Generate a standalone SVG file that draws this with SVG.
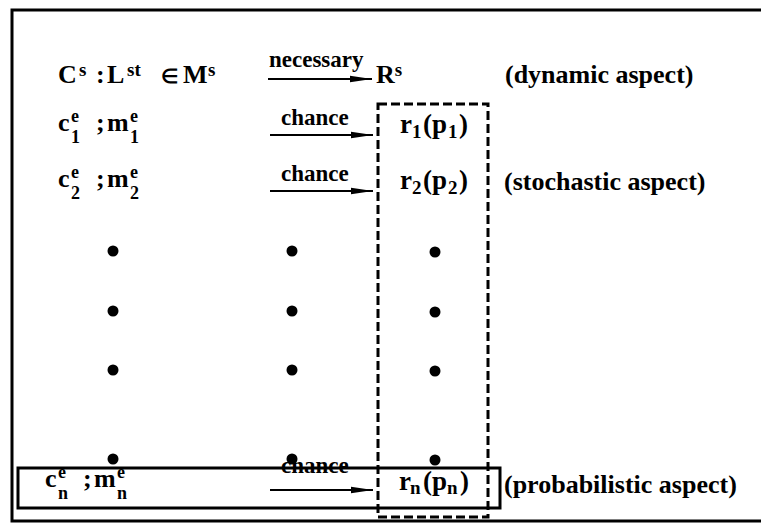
<svg xmlns="http://www.w3.org/2000/svg" width="761" height="527" viewBox="0 0 761 527">
<style>
text{font-family:"Liberation Serif",serif;font-weight:bold;font-size:26px;fill:#000}
.l{font-size:23px}
.sc{font-size:19px}
.ss{font-size:18px}
.el{font-size:20px}
.r{font-size:27px}
.line{stroke:#000;stroke-width:2;fill:none}
.frame{stroke:#000;stroke-width:3;fill:none}
.dash{stroke:#000;stroke-width:3;fill:none;stroke-dasharray:9 4}
.dot{fill:#000}
</style>
<defs>
<marker id="ah" viewBox="0 0 22 8" refX="22" refY="4" markerWidth="22" markerHeight="8" markerUnits="userSpaceOnUse" orient="auto">
<path d="M0,0.8 L22,4 L0,7.2 Z" fill="#000"/>
</marker>
</defs>
<rect width="761" height="527" fill="#fff"/>
<path class="frame" d="M775,10 L12,10 L12,521 L775,521"/>
<g id="frames">
<rect id="stochastic-box" class="dash" x="378" y="104" width="110" height="413"/>
<rect id="probabilistic-box" class="frame" x="18" y="468" width="482" height="40"/>
</g>
<g id="row-dynamic">
<text x="58" y="83">C<tspan class="sc" x="79" dy="-7">s</tspan><tspan x="96" dy="7">:</tspan><tspan x="107">L</tspan><tspan class="sc" x="127" dy="-7">st</tspan><tspan class="el" x="161" dy="7">∈</tspan><tspan x="183">M</tspan><tspan class="sc" x="208" dy="-7">s</tspan></text>
<text class="l" x="269" y="67">necessary</text>
<text x="376" y="83">R<tspan class="sc" dy="-7">s</tspan></text>
<text x="505" y="83">(dynamic aspect)</text>
</g>
<g id="row-1">
<text x="58" y="131">c<tspan x="96">;</tspan><tspan x="107">m</tspan></text>
<text class="ss" x="71" y="122">e<tspan x="130">e</tspan></text>
<text class="ss" x="71" y="143">1<tspan x="130">1</tspan></text>
<text class="l" x="281" y="125">chance</text>
<text class="r" x="400" y="133">r<tspan class="sc" x="412" dy="5">1</tspan><tspan x="423" dy="-5">(</tspan><tspan x="432">p</tspan><tspan class="sc" x="448" dy="5">1</tspan><tspan x="459" dy="-5">)</tspan></text>
</g>
<g id="row-2">
<text x="58" y="187">c<tspan x="96">;</tspan><tspan x="107">m</tspan></text>
<text class="ss" x="71" y="178">e<tspan x="130">e</tspan></text>
<text class="ss" x="71" y="199">2<tspan x="130">2</tspan></text>
<text class="l" x="281" y="181">chance</text>
<text class="r" x="400" y="189">r<tspan class="sc" x="412" dy="5">2</tspan><tspan x="423" dy="-5">(</tspan><tspan x="432">p</tspan><tspan class="sc" x="448" dy="5">2</tspan><tspan x="459" dy="-5">)</tspan></text>
<text x="504" y="190">(stochastic aspect)</text>
</g>
<g id="dots">
<circle class="dot" cx="113" cy="251" r="5.5"/><circle class="dot" cx="292" cy="251" r="5.5"/><circle class="dot" cx="435" cy="252" r="5.5"/>
<circle class="dot" cx="113" cy="311" r="5.5"/><circle class="dot" cx="292" cy="311" r="5.5"/><circle class="dot" cx="435" cy="312" r="5.5"/>
<circle class="dot" cx="113" cy="370" r="5.5"/><circle class="dot" cx="292" cy="370" r="5.5"/><circle class="dot" cx="435" cy="371" r="5.5"/>
<circle class="dot" cx="113" cy="459" r="5.5"/><circle class="dot" cx="292" cy="459" r="5.5"/><circle class="dot" cx="435" cy="460" r="5.5"/>
</g>
<g id="row-n">
<text x="45" y="487">c<tspan x="83">;</tspan><tspan x="94">m</tspan></text>
<text class="ss" x="58" y="478">e<tspan x="117">e</tspan></text>
<text class="ss" x="58" y="499">n<tspan x="117">n</tspan></text>
<text class="l" x="281" y="473">chance</text>
<text class="r" x="399" y="490">r<tspan class="sc" x="410" dy="4">n</tspan><tspan x="423" dy="-4">(</tspan><tspan x="432">p</tspan><tspan class="sc" x="447" dy="4">n</tspan><tspan x="460" dy="-4">)</tspan></text>
<text x="504" y="493">(probabilistic aspect)</text>
</g>
<g id="connectors">
<line class="line" x1="268" y1="79" x2="372" y2="79" marker-end="url(#ah)"/>
<line class="line" x1="270" y1="135" x2="373" y2="135" marker-end="url(#ah)"/>
<line class="line" x1="270" y1="191" x2="373" y2="191" marker-end="url(#ah)"/>
<line class="line" x1="270" y1="490" x2="373" y2="490" marker-end="url(#ah)"/>
</g>
</svg>
